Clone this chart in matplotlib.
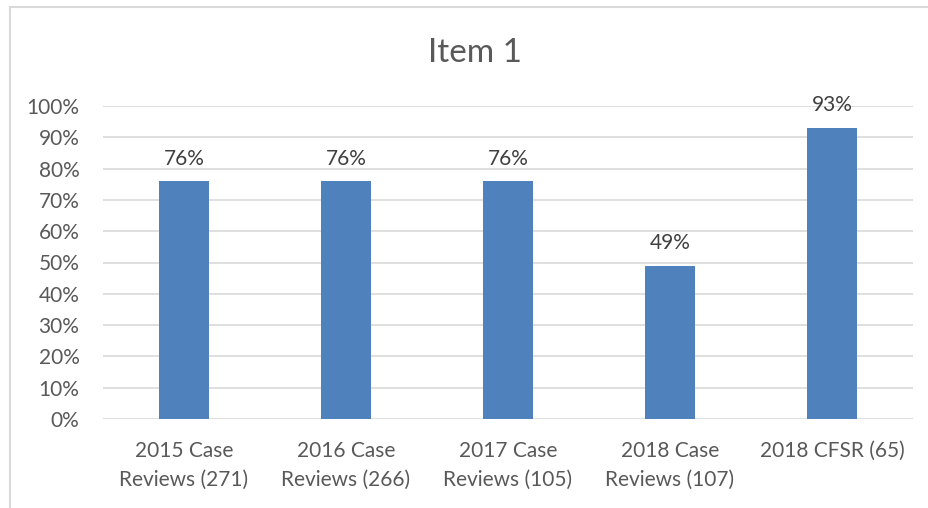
import matplotlib.pyplot as plt
from matplotlib.patches import Rectangle
from matplotlib.ticker import FuncFormatter

categories = ['2015 Case\nReviews (271)', '2016 Case\nReviews (266)', '2017 Case\nReviews (105)',
              '2018 Case\nReviews (107)', '2018 CFSR (65)']
values = [76, 76, 76, 49, 93]
title = 'Item 1'

plt.rcParams['font.family'] = ['Lato', 'DejaVu Sans']
txt = '#595959'

fig = plt.figure(figsize=[9.29, 5.08], dpi=100)
# chart frame, right/bottom edges cut off like the original
fig.patches.append(Rectangle((10/929, -0.1), 1.0, 1 - 7/508 + 0.1, transform=fig.transFigure,
                             fill=False, edgecolor='#d9d9d9', linewidth=1.5))

ax = fig.add_axes([103/929, 1 - 419/508, (913 - 103)/929, (419 - 106)/508])
x = range(len(values))
ax.bar(x, values, width=0.31, color='#4f81bd', zorder=3)
for i, v in zip(x, values):
    ax.text(i, v + 4, '%d%%' % v, ha='center', va='bottom', fontsize=15, color='#404040', zorder=4)

ax.set_xlim(-0.5, len(values) - 0.5)
ax.set_ylim(0, 100)
ax.set_yticks(range(0, 101, 10))
ax.yaxis.set_major_formatter(FuncFormatter(lambda v, p: '%d%%' % v))
ax.set_xticks(list(x))
ax.set_xticklabels(categories, linespacing=1.55)
ax.tick_params(axis='both', length=0, labelsize=15, colors=txt)
ax.tick_params(axis='y', pad=17)
ax.tick_params(axis='x', pad=16)
ax.grid(axis='y', color='#d9d9d9', linewidth=1.2, zorder=0)
for s in ax.spines.values():
    s.set_visible(False)

fig.text(475/929, 1 - 53/508, title, ha='center', va='center', fontsize=24, color=txt)

fig.savefig('out.png', dpi=100)
